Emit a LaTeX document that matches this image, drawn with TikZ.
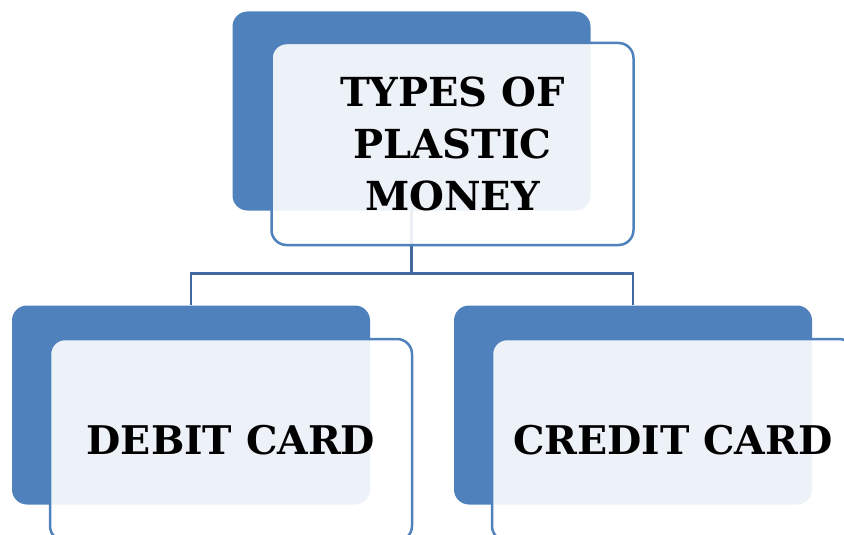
\documentclass[tikz,border=0pt]{standalone}
\usepackage{fontspec}
\usepackage{xcolor}
\newfontfamily\cardfont{DejaVu Serif}
\definecolor{cardblue}{HTML}{4F81BD}
\definecolor{linkblue}{HTML}{44699E}

\begin{document}
\begin{tikzpicture}[x=1pt, y=-1pt,
    back/.style={fill=cardblue, rounded corners=15pt, minimum width=358pt, minimum height=199pt, inner sep=0pt},
    front/.style={draw=cardblue, line width=2.5pt, fill=white, fill opacity=0.9, text opacity=1,
        rounded corners=15pt, minimum width=362pt, minimum height=202pt, inner sep=0pt, align=center},
    link/.style={draw=linkblue, line width=2.8pt}]
\useasboundingbox (0,0) rectangle (844,535);
\clip (0,0) rectangle (844,535);

% shaded cards behind
\node[back] (topback) at (411.5,111) {};
\node[back] (leftback) at (191,405) {};
\node[back] (rightback) at (633,405) {};

% tree lines
\coordinate (fork) at ([yshift=-63pt]topback.south);
\draw[link] (topback.south) -- (fork) -| (leftback.north);
\draw[link] (fork) -| (rightback.north);

% front cards with the labels
\node[front, font={\cardfont\bfseries\fontsize{40}{52}\selectfont}] (top) at ([shift={(41,33)}]topback.center) {TYPES OF\\PLASTIC\\MONEY};
\node[front, font={\cardfont\bfseries\fontsize{39.5}{49}\selectfont}] (debit) at ([shift={(40,35)}]leftback.center) {DEBIT CARD};
\node[front, font={\cardfont\bfseries\fontsize{39.5}{49}\selectfont}] (credit) at ([shift={(40,35)}]rightback.center) {CREDIT CARD};
\end{tikzpicture}
\end{document}
